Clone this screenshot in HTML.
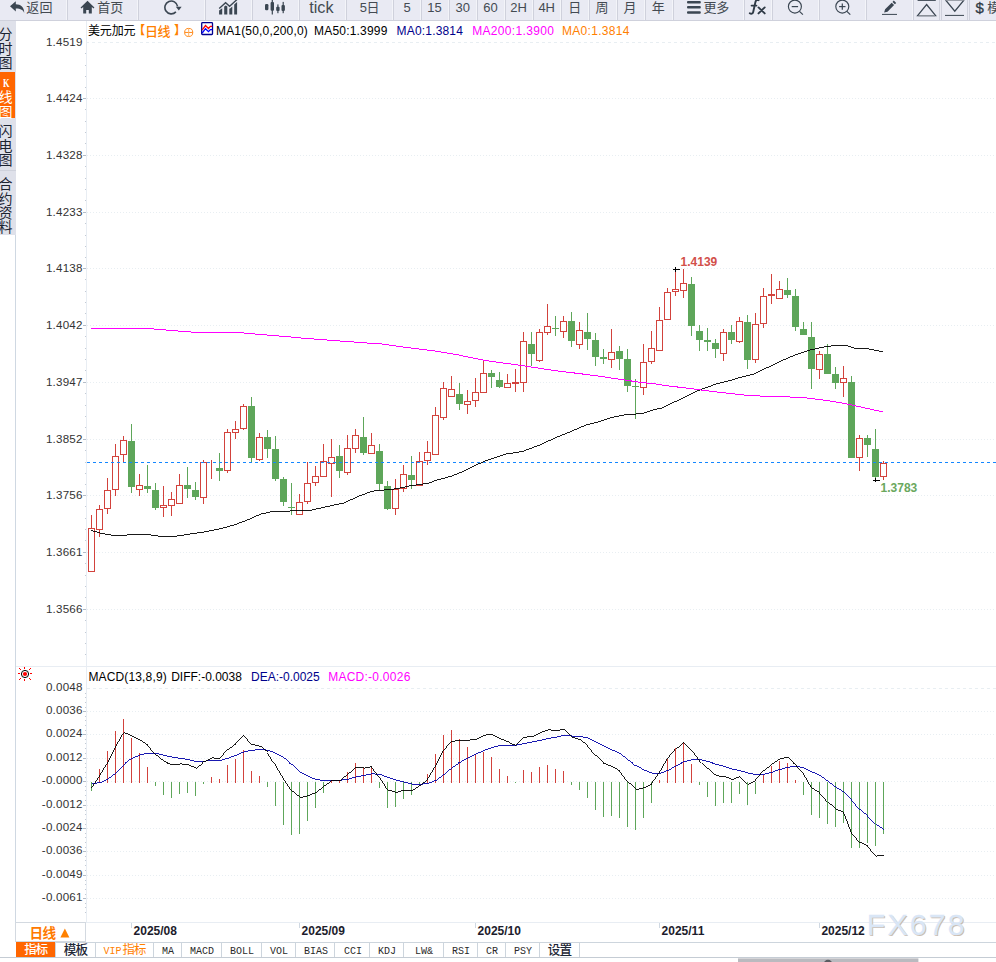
<!DOCTYPE html>
<html lang="zh"><head><meta charset="utf-8"><title>USDCAD K</title><style>
html,body{margin:0;padding:0}
body{width:996px;height:962px;position:relative;overflow:hidden;background:#fff;font-family:"Liberation Sans",sans-serif}
.ov{position:absolute;left:0;top:0;overflow:hidden}
.t{position:absolute;white-space:nowrap;line-height:16px;display:block}
.zh{position:absolute;display:block;line-height:1;white-space:nowrap;font-family:"Liberation Sans","Noto Sans CJK SC",sans-serif}
.zv{writing-mode:vertical-rl;line-height:14px;letter-spacing:0.3px}
#tb{position:absolute;left:0;top:0;width:996px;height:20px;background:#e9eaf3;border-bottom:1px solid #cfd1dc;overflow:hidden}
.btn{position:absolute;top:0;height:20px;box-sizing:border-box;border-left:1px solid #cfd1dc;border-right:1px solid #f3f4f9}
#sb{position:absolute;left:0;top:21px;width:15.9px;height:213.5px;background:#dfe1ea}
#sbk{position:absolute;left:0;top:72px;width:15.2px;height:45.8px;background:#ff6600}
.sbsep{position:absolute;left:0;width:15.7px;height:1px;background:#cfd2dc}
.ax{letter-spacing:0px}
.wm{font-weight:normal}
#pbox{position:absolute;left:15px;top:922px;width:71px;height:20px;border:1px solid #d3d9e0;box-sizing:border-box}
#tabs{position:absolute;left:0;top:942px;width:996px;height:16px;background:linear-gradient(#cdd5dd,#cdd5dd) 16px 0/980px 1px no-repeat,linear-gradient(#c5ccd4,#c5ccd4) 0 15px/996px 1px no-repeat,#fff}
.tab{position:absolute;top:1px;height:14px;border-right:1px solid #cdd5dd;box-sizing:border-box}
.mono{font-family:"Liberation Mono",monospace;transform:scaleX(.855);transform-origin:50% 50%;line-height:13px}
</style></head>
<body>
<div id="tb">
<div class="btn" style="left:0px;width:67px;border-left:0;"></div>
<div class="btn" style="left:67px;width:71px;"></div>
<div class="btn" style="left:138px;width:67px;"></div>
<div class="btn" style="left:205px;width:47px;"></div>
<div class="btn" style="left:252px;width:47px;"></div>
<div class="btn" style="left:299px;width:47px;"></div>
<div class="btn" style="left:346px;width:47px;"></div>
<div class="btn" style="left:393px;width:28px;"></div>
<div class="btn" style="left:421px;width:28px;"></div>
<div class="btn" style="left:449px;width:28px;"></div>
<div class="btn" style="left:477px;width:28px;"></div>
<div class="btn" style="left:505px;width:28px;"></div>
<div class="btn" style="left:533px;width:28px;"></div>
<div class="btn" style="left:561px;width:28px;"></div>
<div class="btn" style="left:589px;width:28px;"></div>
<div class="btn" style="left:617px;width:28px;"></div>
<div class="btn" style="left:645px;width:28px;"></div>
<div class="btn" style="left:673px;width:71px;"></div>
<div class="btn" style="left:744px;width:28px;"></div>
<div class="btn" style="left:772px;width:47px;"></div>
<div class="btn" style="left:819px;width:47px;"></div>
<div class="btn" style="left:866px;width:47px;"></div>
<div class="btn" style="left:913px;width:27px;border-right-color:#cfd1dc;"></div>
<div class="btn" style="left:941px;width:27px;border-right-color:#cfd1dc;"></div>
<div class="btn" style="left:969px;width:28px;"></div>
<svg class="ov" width="996" height="21"><path fill="#3b4652" d="M10 6.3 L15.8 1.2 V4.2 C20.8 4.3 24.4 7 24.2 13.1 C23.3 10.3 20.8 8.6 15.8 8.6 V11.5 Z"/><path fill="#3b4652" d="M87.5 0.8 L94.4 7.6 L93.6 8.4 L91.8 6.9 V13.6 H88.8 V10 H86.2 V13.6 H83.2 V6.9 L81.4 8.4 L80.6 7.6 Z"/><path fill="none" stroke="#3b4652" stroke-width="1.6" d="M175.9 11.9 A6.4 6.4 0 1 1 177.6 6.4"/><path fill="#3b4652" d="M175.8 6.7 L181.6 6.7 L178.8 10.6 Z"/><g fill="#3b4652"><path d="M219.1 14.5 V10.6 L222.2 8.2 V14.5 Z M224.2 14.5 V6.6 L225.8 5.4 L227.3 6.6 V14.5 Z M229.3 14.5 V8.3 L229.8 8.7 L232.3 6.4 V14.5 Z M234.2 14.5 V4.6 L237.1 1.9 V14.5 Z"/></g><path fill="none" stroke="#3b4652" stroke-width="1.4" d="M219.2 8.5 L225.6 2.8 L229.6 6.2 L237 -0.4"/><g fill="#3b4652"><rect x="265" y="4" width="3.4" height="6.3" rx="1.2"/><rect x="270.6" y="2" width="3.4" height="8.7" rx="1"/><rect x="271.7" y="0" width="1.2" height="14.5"/><rect x="276.2" y="6.8" width="3.4" height="4.2" rx="1"/><rect x="277.3" y="4.4" width="1.2" height="8.8"/><rect x="281.5" y="5" width="3.4" height="6" rx="1"/><rect x="282.6" y="1.9" width="1.2" height="11.3"/></g><g fill="#3b4652"><rect x="687" y="1" width="13.8" height="2.5" rx="1"/><rect x="687" y="6" width="13.8" height="2.5" rx="1"/><rect x="687" y="11.2" width="13.8" height="2.5" rx="1"/></g><circle cx="794.9" cy="6.6" r="6.5" fill="none" stroke="#3b4652" stroke-width="1.15"/><path stroke="#3b4652" stroke-width="1.2" fill="none" d="M799.5 11.3 L802.9 14.7"/><path stroke="#3b4652" stroke-width="1.2" fill="none" d="M791.7 6.6 H798.1"/><circle cx="842.3" cy="6.6" r="6.5" fill="none" stroke="#3b4652" stroke-width="1.15"/><path stroke="#3b4652" stroke-width="1.2" fill="none" d="M846.9 11.3 L850.3 14.7"/><path stroke="#3b4652" stroke-width="1.2" fill="none" d="M839.1 6.6 H845.5"/><path stroke="#3b4652" stroke-width="1.2" fill="none" d="M842.3 3.4 V9.8"/><path fill="#3b4652" d="M884.1 12.5 L885.1 9.3 L891.7 2.7 L894.1 5.1 L887.5 11.7 Z M892.5 1.9 L893.8 0.6 L896.2 3 L894.9 4.3 Z"/><rect x="882" y="13.9" width="15" height="1" fill="#3b4652"/><rect x="917.6" y="0" width="18.2" height="0.9" fill="#3b4652"/><path fill="none" stroke="#3b4652" stroke-width="1.25" d="M926.6 4.5 L935.6 15.6 H917.6 Z"/><rect x="918.4" y="15" width="16.6" height="1.3" fill="#8a8f98"/><path fill="none" stroke="#3b4652" stroke-width="1.25" d="M945.6 0 L954.8 11.2 L964 0"/><rect x="945.4" y="0" width="18.8" height="0.8" fill="#8a8f98"/><rect x="945" y="14.9" width="19" height="1" fill="#3b4652"/></svg>
<span class="zh" style="left:26.20px;top:0.60px;font-size:13px;color:#444a52;letter-spacing:0.3px;">返回</span>
<span class="zh" style="left:97.20px;top:0.60px;font-size:13px;color:#444a52;letter-spacing:0.1px;">首页</span>
<span class="t" style="left:309.20px;top:-0.80px;font-size:16.2px;color:#444a52;">tick</span>
<span class="t" style="left:359.80px;top:0.00px;font-size:13px;color:#444a52;">5</span>
<span class="zh" style="left:366.40px;top:0.80px;font-size:13px;color:#444a52;">日</span>
<span class="t" style="left:387.00px;top:0.00px;font-size:13px;color:#444a52;width:40px;text-align:center;">5</span>
<span class="t" style="left:414.50px;top:0.00px;font-size:13px;color:#444a52;width:40px;text-align:center;">15</span>
<span class="t" style="left:442.70px;top:0.00px;font-size:13px;color:#444a52;width:40px;text-align:center;">30</span>
<span class="t" style="left:470.50px;top:0.00px;font-size:13px;color:#444a52;width:40px;text-align:center;">60</span>
<span class="t" style="left:498.60px;top:0.00px;font-size:13px;color:#444a52;width:40px;text-align:center;">2H</span>
<span class="t" style="left:526.70px;top:0.00px;font-size:13px;color:#444a52;width:40px;text-align:center;">4H</span>
<span class="zh" style="left:568.20px;top:0.80px;font-size:13px;color:#444a52;">日</span>
<span class="zh" style="left:595.60px;top:0.80px;font-size:13px;color:#444a52;">周</span>
<span class="zh" style="left:623.50px;top:0.80px;font-size:13px;color:#444a52;">月</span>
<span class="zh" style="left:651.80px;top:0.80px;font-size:13px;color:#444a52;">年</span>
<span class="zh" style="left:703.60px;top:0.60px;font-size:13px;color:#444a52;letter-spacing:-0.4px;">更多</span>
<svg class="ov" width="996" height="21"><title>fx</title><path fill="none" stroke="#2f3a46" stroke-width="1.9" stroke-linecap="round" d="M758.6 0.2 C757 -0.5 755.9 0.2 755.5 1.8 L753.2 12 C752.8 13.8 751.2 14.2 749.8 13.3 M751.6 5.6 H756.4 M758.5 7.4 L764.7 13.4 M764.7 7.4 L758.5 13.4"/></svg>
<span class="t" style="left:975.40px;top:0.20px;font-size:15px;color:#2f3a46;-webkit-text-stroke:0.3px #2f3a46;">$</span>
<span class="zh" style="left:987.20px;top:0.60px;font-size:13px;color:#444a52;">模</span>
</div>
<div id="sb"></div>
<div id="sbk"></div>
<div class="sbsep" style="top:170px"></div>
<span class="zh zv" style="left:-2.40px;top:26.90px;width:14.00px;height:42.60px;font-size:14px;color:#1c2432;">分时图</span>
<span class="zh zv" style="left:-2.40px;top:90.10px;width:14.00px;height:28.30px;font-size:14px;color:#fff;">线图</span>
<span class="t" style="left:2.80px;top:75.20px;font-size:12px;color:#fff;font-family:'Liberation Serif',serif;transform:scaleX(.7);transform-origin:0 50%;font-weight:bold;">K</span>
<span class="zh zv" style="left:-2.50px;top:124.10px;width:14.00px;height:42.60px;font-size:14px;color:#1c2432;">闪电图</span>
<span class="zh zv" style="left:-2.50px;top:176.70px;width:14.00px;height:56.90px;font-size:14px;color:#1c2432;">合约资料</span>
<svg id="ch" class="ov" width="996" height="962"><path d="M86 42.5 H996" stroke="#e8eef2" stroke-width="1" stroke-dasharray="3 3"/><path d="M87 98.5 H996" stroke="#e8eef2" stroke-width="1" stroke-dasharray="1 2"/><path d="M87 155.5 H996" stroke="#e8eef2" stroke-width="1" stroke-dasharray="1 2"/><path d="M87 212.5 H996" stroke="#e8eef2" stroke-width="1" stroke-dasharray="1 2"/><path d="M87 268.5 H996" stroke="#e8eef2" stroke-width="1" stroke-dasharray="1 2"/><path d="M87 325.5 H996" stroke="#e8eef2" stroke-width="1" stroke-dasharray="1 2"/><path d="M87 382.5 H996" stroke="#e8eef2" stroke-width="1" stroke-dasharray="1 2"/><path d="M87 439.5 H996" stroke="#e8eef2" stroke-width="1" stroke-dasharray="1 2"/><path d="M87 495.5 H996" stroke="#e8eef2" stroke-width="1" stroke-dasharray="1 2"/><path d="M87 552.5 H996" stroke="#e8eef2" stroke-width="1" stroke-dasharray="1 2"/><path d="M87 609.5 H996" stroke="#e8eef2" stroke-width="1" stroke-dasharray="1 2"/><path d="M85 53.5 H86 M85 65.5 H86 M85 76.5 H86 M85 87.5 H86 M85 109.5 H86 M85 121.5 H86 M85 132.5 H86 M85 143.5 H86 M85 166.5 H86 M85 178.5 H86 M85 189.5 H86 M85 200.5 H86 M85 223.5 H86 M85 235.5 H86 M85 246.5 H86 M85 257.5 H86 M85 279.5 H86 M85 291.5 H86 M85 302.5 H86 M85 313.5 H86 M85 336.5 H86 M85 348.5 H86 M85 359.5 H86 M85 370.5 H86 M85 393.5 H86 M85 405.5 H86 M85 416.5 H86 M85 427.5 H86 M85 450.5 H86 M85 462.5 H86 M85 473.5 H86 M85 484.5 H86 M85 506.5 H86 M85 518.5 H86 M85 529.5 H86 M85 540.5 H86 M85 563.5 H86 M85 575.5 H86 M85 586.5 H86 M85 597.5 H86 M85 620.5 H86 M85 632.5 H86 M85 643.5 H86 M85 654.5 H86" stroke="#c3cad4" stroke-width="1"/><path d="M83 98.5 H86 M83 155.5 H86 M83 212.5 H86 M83 268.5 H86 M83 325.5 H86 M83 382.5 H86 M83 439.5 H86 M83 495.5 H86 M83 552.5 H86 M83 609.5 H86" stroke="#b4bcc7" stroke-width="1"/><path d="M86.5 21 V922 M16 666.5 H996 M16 922.5 H996" stroke="#e8edf3" stroke-width="1" fill="none"/><path d="M15.5 235 V957" stroke="#cfd8e2" stroke-width="1" fill="none"/><path d="M87 688.5 H996" stroke="#e8eef2" stroke-width="1" stroke-dasharray="3 3"/><path d="M87 711.5 H996" stroke="#e8eef2" stroke-width="1" stroke-dasharray="1 2"/><path d="M87 734.5 H996" stroke="#e8eef2" stroke-width="1" stroke-dasharray="1 2"/><path d="M87 758.5 H996" stroke="#e8eef2" stroke-width="1" stroke-dasharray="1 2"/><path d="M87 781.5 H996" stroke="#e8eef2" stroke-width="1" stroke-dasharray="1 2"/><path d="M87 805.5 H996" stroke="#e8eef2" stroke-width="1" stroke-dasharray="1 2"/><path d="M87 828.5 H996" stroke="#e8eef2" stroke-width="1" stroke-dasharray="1 2"/><path d="M87 851.5 H996" stroke="#e8eef2" stroke-width="1" stroke-dasharray="1 2"/><path d="M87 875.5 H996" stroke="#e8eef2" stroke-width="1" stroke-dasharray="1 2"/><path d="M87 898.5 H996" stroke="#e8eef2" stroke-width="1" stroke-dasharray="1 2"/><path d="M85 693.5 H86 M85 697.5 H86 M85 702.5 H86 M85 707.5 H86 M85 716.5 H86 M85 720.5 H86 M85 725.5 H86 M85 730.5 H86 M85 739.5 H86 M85 743.5 H86 M85 748.5 H86 M85 753.5 H86 M85 763.5 H86 M85 767.5 H86 M85 772.5 H86 M85 777.5 H86 M85 786.5 H86 M85 790.5 H86 M85 795.5 H86 M85 800.5 H86 M85 810.5 H86 M85 814.5 H86 M85 819.5 H86 M85 824.5 H86 M85 833.5 H86 M85 837.5 H86 M85 842.5 H86 M85 847.5 H86 M85 856.5 H86 M85 860.5 H86 M85 865.5 H86 M85 870.5 H86 M85 880.5 H86 M85 884.5 H86 M85 889.5 H86 M85 894.5 H86 M85 903.5 H86 M85 907.5 H86 M85 912.5 H86" stroke="#c3cad4" stroke-width="1"/><path d="M83 711.5 H86 M83 734.5 H86 M83 758.5 H86 M83 781.5 H86 M83 805.5 H86 M83 828.5 H86 M83 851.5 H86 M83 875.5 H86 M83 898.5 H86" stroke="#b4bcc7" stroke-width="1"/><path d="M131 424h1v69h-1zM128 441h7v46h-7zM147 465h1v28h-1zM144 486h7v3h-7zM155 483h1v27h-1zM152 490h7v18h-7zM187 467h1v31h-1zM184 485h7v4h-7zM195 482h1v18h-1zM192 490h7v7h-7zM219 453h1v28h-1zM216 468h7v3h-7zM251 397h1v65h-1zM248 406h7v52h-7zM267 430h1v28h-1zM264 437h7v12h-7zM275 436h1v45h-1zM272 449h7v30h-7zM283 477h1v29h-1zM280 479h7v23h-7zM291 483h1v32h-1zM288 507h7v1h-7zM339 445h1v33h-1zM336 456h7v15h-7zM363 417h1v38h-1zM360 437h7v16h-7zM379 444h1v46h-1zM376 451h7v33h-7zM387 481h1v29h-1zM384 486h7v23h-7zM411 456h1v33h-1zM408 475h7v5h-7zM459 383h1v27h-1zM456 394h7v10h-7zM491 370h1v18h-1zM488 373h7v4h-7zM499 372h1v16h-1zM496 380h7v7h-7zM531 332h1v34h-1zM528 344h7v10h-7zM555 316h1v20h-1zM552 328h7v1h-7zM571 312h1v35h-1zM568 321h7v20h-7zM587 313h1v37h-1zM584 332h7v7h-7zM595 333h1v33h-1zM592 340h7v17h-7zM603 349h1v15h-1zM600 357h7v2h-7zM619 346h1v24h-1zM616 351h7v8h-7zM627 349h1v43h-1zM624 359h7v27h-7zM635 379h1v40h-1zM632 386h7v1h-7zM691 277h1v59h-1zM688 284h7v42h-7zM699 325h1v26h-1zM696 331h7v9h-7zM707 328h1v23h-1zM704 340h7v2h-7zM715 339h1v19h-1zM712 343h7v6h-7zM731 325h1v19h-1zM728 332h7v8h-7zM747 315h1v54h-1zM744 322h7v38h-7zM787 278h1v20h-1zM784 290h7v5h-7zM795 289h1v42h-1zM792 296h7v31h-7zM803 322h1v13h-1zM800 329h7v6h-7zM811 322h1v67h-1zM808 337h7v32h-7zM827 344h1v30h-1zM824 354h7v20h-7zM835 367h1v22h-1zM832 374h7v9h-7zM851 376h1v82h-1zM848 382h7v76h-7zM867 435h1v22h-1zM864 438h7v7h-7zM875 429h1v52h-1zM872 449h7v28h-7z" fill="#5ea65a"/><path d="M91 515h1v13h-1zM88 528h7v44h-7zM99 505h1v4h-1zM99 530h1v7h-1zM96 509h7v21h-7zM107 478h1v12h-1zM107 509h1v5h-1zM104 490h7v19h-7zM115 444h1v12h-1zM115 490h1v6h-1zM112 456h7v34h-7zM123 436h1v4h-1zM123 455h1v7h-1zM120 440h7v15h-7zM139 474h1v11h-1zM139 490h1v6h-1zM136 485h7v5h-7zM163 486h1v19h-1zM163 508h1v9h-1zM160 505h7v3h-7zM171 492h1v7h-1zM171 506h1v10h-1zM168 499h7v7h-7zM179 474h1v11h-1zM176 485h7v19h-7zM203 460h1v2h-1zM203 498h1v6h-1zM200 462h7v36h-7zM211 460h1v19h-1zM227 429h1v3h-1zM227 471h1v2h-1zM224 432h7v39h-7zM235 421h1v8h-1zM235 433h1v6h-1zM232 429h7v4h-7zM243 404h1v2h-1zM243 429h1v1h-1zM240 406h7v23h-7zM259 433h1v4h-1zM259 460h1v1h-1zM256 437h7v23h-7zM299 494h1v8h-1zM296 502h7v13h-7zM307 462h1v21h-1zM307 502h1v2h-1zM304 483h7v19h-7zM315 466h1v10h-1zM315 483h1v3h-1zM312 476h7v7h-7zM323 444h1v17h-1zM320 461h7v16h-7zM331 439h1v18h-1zM331 464h1v33h-1zM328 457h7v7h-7zM347 435h1v13h-1zM347 473h1v2h-1zM344 448h7v25h-7zM355 429h1v6h-1zM355 449h1v4h-1zM352 435h7v14h-7zM371 433h1v12h-1zM368 445h7v9h-7zM395 479h1v10h-1zM395 509h1v6h-1zM392 489h7v20h-7zM403 465h1v9h-1zM403 489h1v3h-1zM400 474h7v15h-7zM419 452h1v9h-1zM416 461h7v25h-7zM427 441h1v11h-1zM427 461h1v4h-1zM424 452h7v9h-7zM435 407h1v8h-1zM432 415h7v40h-7zM443 382h1v6h-1zM443 418h1v2h-1zM440 388h7v30h-7zM451 376h1v13h-1zM448 389h7v8h-7zM467 390h1v11h-1zM467 405h1v9h-1zM464 401h7v4h-7zM475 378h1v14h-1zM475 401h1v6h-1zM472 392h7v9h-7zM483 360h1v13h-1zM480 373h7v20h-7zM507 374h1v9h-1zM504 383h7v5h-7zM515 369h1v13h-1zM515 384h1v8h-1zM512 382h7v2h-7zM523 332h1v9h-1zM523 383h1v9h-1zM520 341h7v42h-7zM539 329h1v3h-1zM539 361h1v1h-1zM536 332h7v29h-7zM547 304h1v22h-1zM547 333h1v2h-1zM544 326h7v7h-7zM563 316h1v5h-1zM563 332h1v6h-1zM560 321h7v11h-7zM579 322h1v8h-1zM579 345h1v4h-1zM576 330h7v15h-7zM611 329h1v23h-1zM611 360h1v8h-1zM608 352h7v8h-7zM643 344h1v18h-1zM643 388h1v7h-1zM640 362h7v26h-7zM651 331h1v17h-1zM651 362h1v2h-1zM648 348h7v14h-7zM659 307h1v13h-1zM656 320h7v31h-7zM667 288h1v4h-1zM664 292h7v28h-7zM675 269h1v20h-1zM675 292h1v4h-1zM672 289h7v3h-7zM683 269h1v14h-1zM683 291h1v7h-1zM680 283h7v8h-7zM723 329h1v3h-1zM723 354h1v7h-1zM720 332h7v22h-7zM739 317h1v4h-1zM739 342h1v1h-1zM736 321h7v21h-7zM755 313h1v11h-1zM755 360h1v3h-1zM752 324h7v36h-7zM763 288h1v8h-1zM763 324h1v4h-1zM760 296h7v28h-7zM771 274h1v20h-1zM771 296h1v8h-1zM768 294h7v2h-7zM779 281h1v8h-1zM776 289h7v10h-7zM819 351h1v3h-1zM819 370h1v9h-1zM816 354h7v16h-7zM843 366h1v12h-1zM843 383h1v14h-1zM840 378h7v5h-7zM859 435h1v3h-1zM859 458h1v13h-1zM856 438h7v20h-7zM883 461h1v2h-1zM883 477h1v3h-1zM880 463h7v14h-7z" fill="#d2423c"/><path d="M89 529h5v42h-5zM97 510h5v19h-5zM105 491h5v17h-5zM113 457h5v32h-5zM121 441h5v13h-5zM137 486h5v3h-5zM161 506h5v1h-5zM169 500h5v5h-5zM177 486h5v17h-5zM201 463h5v34h-5zM225 433h5v37h-5zM233 430h5v2h-5zM241 407h5v21h-5zM257 438h5v21h-5zM297 503h5v11h-5zM305 484h5v17h-5zM313 477h5v5h-5zM321 462h5v14h-5zM329 458h5v5h-5zM345 449h5v23h-5zM353 436h5v12h-5zM369 446h5v7h-5zM393 490h5v18h-5zM401 475h5v13h-5zM417 462h5v23h-5zM425 453h5v7h-5zM433 416h5v38h-5zM441 389h5v28h-5zM449 390h5v6h-5zM465 402h5v2h-5zM473 393h5v7h-5zM481 374h5v18h-5zM505 384h5v3h-5zM521 342h5v40h-5zM537 333h5v27h-5zM545 327h5v5h-5zM561 322h5v9h-5zM577 331h5v13h-5zM609 353h5v6h-5zM641 363h5v24h-5zM649 349h5v12h-5zM657 321h5v29h-5zM665 293h5v26h-5zM673 290h5v1h-5zM681 284h5v6h-5zM721 333h5v20h-5zM737 322h5v19h-5zM753 325h5v34h-5zM761 297h5v26h-5zM777 290h5v8h-5zM817 355h5v14h-5zM841 379h5v3h-5zM857 439h5v18h-5zM881 464h5v12h-5z" fill="#fff"/><polyline points="91.2,530.4 100.0,533.0 112.0,535.2 126.6,535.0 147.4,534.6 162.0,536.5 174.5,536.2 189.0,534.2 203.6,532.0 220.2,528.8 235.0,524.6 250.0,519.0 260.4,514.2 272.8,511.5 293.6,510.9 310.3,510.4 322.8,507.5 343.6,503.0 358.1,496.5 370.6,491.7 375.4,490.8 387.9,489.6 398.3,488.5 410.8,485.6 427.4,483.5 437.8,479.8 451.3,476.2 462.8,471.5 473.2,466.3 483.6,461.7 494.0,457.9 506.5,453.8 515.0,452.7 523.7,451.0 540.4,444.7 557.0,437.0 571.6,431.2 586.1,425.0 598.6,421.9 613.2,417.1 623.6,415.0 642.3,413.5 655.0,409.4 661.6,408.1 676.2,401.2 690.8,393.9 701.2,389.4 715.7,384.2 728.2,381.0 740.7,377.3 753.2,374.2 765.7,368.4 780.2,361.3 795.0,355.0 810.0,350.1 826.6,346.3 841.2,345.3 845.3,345.3 855.7,348.4 868.2,348.8 876.5,350.5 882.8,352.2" fill="none" stroke="#000" stroke-width="0.9" shape-rendering="crispEdges"/><polyline points="91.1,328.0 143.0,328.0 159.8,329.5 193.0,332.2 238.0,332.4 254.7,334.0 272.8,335.5 287.8,336.7 304.4,338.3 321.0,339.5 336.0,340.7 352.6,341.9 369.2,343.2 381.6,343.9 406.6,347.5 433.6,350.8 458.6,355.0 483.6,360.2 500.2,362.7 515.0,364.5 536.2,367.8 557.0,370.9 577.8,373.4 598.6,376.1 619.4,379.2 640.2,382.3 655.0,383.8 665.8,385.6 686.6,388.1 707.4,390.8 728.2,393.3 749.0,395.6 769.8,396.4 785.0,396.7 805.8,397.9 826.6,400.4 847.4,404.0 868.2,408.7 882.8,411.9" fill="none" stroke="#ff00ff" stroke-width="1" shape-rendering="crispEdges"/><path d="M87 462.5 H996" stroke="#1487ff" stroke-width="1.1" stroke-dasharray="3 3"/><path d="M673 269h7v1h-7z M675 267h1v5h-1z M873 480h7v1h-7z M875 478h1v4h-1z" fill="#000"/><path d="M99 769h1v14h-1zM107 751h1v32h-1zM115 731h1v52h-1zM123 719h1v64h-1zM131 738h1v45h-1zM139 753h1v30h-1zM147 767h1v16h-1zM211 777h1v6h-1zM219 779h1v4h-1zM227 765h1v18h-1zM235 759h1v24h-1zM243 750h1v33h-1zM251 771h1v12h-1zM259 776h1v7h-1zM331 781h1v2h-1zM339 781h1v2h-1zM347 772h1v11h-1zM355 763h1v20h-1zM363 768h1v15h-1zM371 768h1v15h-1zM427 774h1v9h-1zM435 754h1v29h-1zM443 735h1v48h-1zM451 730h1v53h-1zM459 739h1v44h-1zM467 747h1v36h-1zM475 754h1v29h-1zM483 752h1v31h-1zM491 757h1v26h-1zM499 769h1v14h-1zM507 776h1v7h-1zM523 770h1v13h-1zM531 772h1v11h-1zM539 767h1v16h-1zM547 765h1v18h-1zM555 769h1v14h-1zM563 771h1v12h-1zM659 780h1v3h-1zM667 759h1v24h-1zM675 748h1v35h-1zM683 743h1v40h-1zM691 764h1v19h-1zM763 775h1v8h-1zM771 766h1v17h-1zM779 761h1v22h-1zM787 763h1v20h-1zM795 780h1v3h-1z" fill="#d2423c"/><path d="M91 782h1v9h-1zM155 782h1v4h-1zM163 782h1v13h-1zM171 782h1v16h-1zM179 782h1v12h-1zM187 782h1v11h-1zM195 782h1v14h-1zM203 782h1v2h-1zM267 782h1v5h-1zM275 782h1v24h-1zM283 782h1v43h-1zM291 782h1v53h-1zM299 782h1v52h-1zM307 782h1v39h-1zM315 782h1v26h-1zM323 782h1v11h-1zM379 782h1v6h-1zM387 782h1v26h-1zM395 782h1v25h-1zM403 782h1v17h-1zM411 782h1v13h-1zM419 782h1v2h-1zM515 782h1v1h-1zM571 782h1v3h-1zM579 782h1v8h-1zM587 782h1v16h-1zM595 782h1v28h-1zM603 782h1v35h-1zM611 782h1v34h-1zM619 782h1v36h-1zM627 782h1v45h-1zM635 782h1v48h-1zM643 782h1v36h-1zM651 782h1v21h-1zM699 782h1v3h-1zM707 782h1v15h-1zM715 782h1v24h-1zM723 782h1v21h-1zM731 782h1v21h-1zM739 782h1v12h-1zM747 782h1v23h-1zM755 782h1v12h-1zM803 782h1v13h-1zM811 782h1v33h-1zM819 782h1v36h-1zM827 782h1v42h-1zM835 782h1v45h-1zM843 782h1v41h-1zM851 782h1v66h-1zM859 782h1v66h-1zM867 782h1v61h-1zM875 782h1v64h-1zM883 782h1v52h-1z" fill="#5ea65a"/><polyline points="91.5,783.8 99.5,782.5 107.5,778.5 115.5,772.5 123.5,764.5 131.5,758.3 139.5,754.8 147.5,753.2 155.5,753.5 163.5,755.4 171.5,757.2 179.5,758.3 187.5,759.6 195.5,761.6 203.5,761.2 211.5,760.4 219.5,760.4 227.5,758.0 235.5,755.2 243.5,751.6 251.5,750.3 259.5,749.5 267.5,750.3 275.5,753.5 283.5,758.0 291.5,764.8 299.5,772.0 307.5,776.5 315.5,779.6 323.5,780.6 331.5,780.6 339.5,780.3 347.5,779.0 355.5,776.9 363.5,775.3 371.5,773.8 379.5,774.5 387.5,777.5 395.5,780.2 403.5,782.2 411.5,784.1 419.5,784.4 427.5,783.3 435.5,780.1 443.5,774.1 451.5,767.5 459.5,762.0 467.5,757.9 475.5,753.8 483.5,750.3 491.5,747.4 499.5,745.4 507.5,745.1 515.5,745.1 523.5,743.4 531.5,741.9 539.5,740.3 547.5,738.5 555.5,737.1 563.5,735.3 571.5,736.1 579.5,736.3 587.5,738.2 595.5,742.2 603.5,746.3 611.5,750.0 619.5,753.8 627.5,760.0 635.5,765.9 643.5,770.1 651.5,773.3 659.5,773.3 667.5,770.1 675.5,765.9 683.5,761.9 691.5,759.5 699.5,759.5 707.5,761.6 715.5,764.3 723.5,766.4 731.5,769.3 739.5,770.7 747.5,773.3 755.5,774.5 763.5,774.0 771.5,772.0 779.5,769.3 787.5,767.2 795.5,766.1 803.5,768.0 811.5,772.0 819.5,775.6 827.5,781.7 835.5,787.5 843.5,792.4 851.5,800.2 859.5,809.9 867.5,816.3 875.5,824.4 883.5,830.0" fill="none" stroke="#0000a8" stroke-width="0.9" shape-rendering="crispEdges"/><polyline points="91.5,787.8 99.5,775.8 107.5,762.8 115.5,746.7 123.5,732.7 131.5,736.1 139.5,740.0 147.5,745.4 155.5,755.1 163.5,761.5 171.5,764.8 179.5,763.9 187.5,764.7 195.5,768.2 203.5,761.9 211.5,757.8 219.5,758.8 227.5,749.3 235.5,743.5 243.5,735.4 251.5,744.5 259.5,746.1 267.5,752.5 275.5,765.2 283.5,779.1 291.5,791.0 299.5,797.6 307.5,795.7 315.5,792.2 323.5,785.9 331.5,780.2 339.5,780.0 347.5,773.8 355.5,767.1 363.5,768.0 371.5,766.5 379.5,777.1 387.5,790.1 395.5,792.3 403.5,790.2 411.5,790.5 419.5,785.3 427.5,779.0 435.5,765.8 443.5,750.4 451.5,741.3 459.5,740.2 467.5,740.2 475.5,739.3 483.5,735.1 491.5,734.7 499.5,738.7 507.5,741.9 515.5,745.4 523.5,737.2 531.5,736.6 539.5,732.5 547.5,729.8 555.5,730.4 563.5,729.5 571.5,737.2 579.5,739.9 587.5,745.9 595.5,755.9 603.5,763.4 611.5,766.7 619.5,771.3 627.5,782.1 635.5,789.6 643.5,787.7 651.5,783.5 659.5,772.1 667.5,758.4 675.5,748.8 683.5,742.1 691.5,750.2 699.5,760.5 707.5,768.7 715.5,775.8 723.5,776.5 731.5,779.4 739.5,776.4 747.5,784.4 755.5,780.1 763.5,770.4 771.5,763.8 779.5,758.6 787.5,757.4 795.5,764.9 803.5,774.0 811.5,788.1 819.5,793.2 827.5,802.2 835.5,809.5 843.5,812.4 851.5,833.1 859.5,842.5 867.5,846.3 875.5,856.0 883.5,855.6" fill="none" stroke="#000" stroke-width="0.9" shape-rendering="crispEdges"/><circle cx="25" cy="674" r="3.6" fill="#fff" stroke="#000" stroke-width="1"/><circle cx="25" cy="674" r="2.1" fill="#f00"/><path fill="#f00" d="M18 673h2v1h-2z M30 673h2v1h-2z M24 667h1v2h-1z M24 679h1v2h-1z M19 668h1v1h-1z M20 669h1v1h-1z M30 668h1v1h-1z M29 669h1v1h-1z M19 679h1v1h-1z M20 678h1v1h-1z M30 679h1v1h-1z M29 678h1v1h-1z"/><rect x="201.7" y="22.6" width="10.8" height="11.9" rx="0.8" fill="#fff" stroke="#00008f" stroke-width="1.3"/><path d="M202.2 29.8 L205.5 25.5 L208.5 28.5 L210.4 26.4 H212.2" stroke="#f00" stroke-width="1.25" fill="none"/><path d="M202.2 33 L205.5 28.7 L208.5 31.7 L210.4 29.5 H212.2" stroke="#00f" stroke-width="1.25" fill="none"/><circle cx="188.7" cy="32.45" r="4.05" fill="none" stroke="#ff8a1a" stroke-width="1"/><path d="M184.6 32.45 H192.8" stroke="#ff8a1a" stroke-width="1"/><path d="M188.7 28.4 V36.5" stroke="#ffb060" stroke-width="1"/><path d="M131.5 923 V928 M299.5 923 V928 M475.5 923 V928 M659.5 923 V928 M819.5 923 V928" stroke="#cfd8e2" stroke-width="1"/><path d="M64.9 928.4 L69.4 937.4 H60.4 Z" fill="#ff8000"/><rect x="738" y="958.4" width="180.4" height="4" fill="#b9babf"/><circle cx="828" cy="964.4" r="4.6" fill="#5a5c62"/></svg>
<span class="t ax" style="left:29.70px;top:33.60px;font-size:11.6px;color:#333;width:53px;text-align:right;letter-spacing:0.22px;">1.4519</span>
<span class="t ax" style="left:29.70px;top:89.60px;font-size:11.6px;color:#333;width:53px;text-align:right;letter-spacing:0.22px;">1.4424</span>
<span class="t ax" style="left:29.70px;top:146.60px;font-size:11.6px;color:#333;width:53px;text-align:right;letter-spacing:0.22px;">1.4328</span>
<span class="t ax" style="left:29.70px;top:203.60px;font-size:11.6px;color:#333;width:53px;text-align:right;letter-spacing:0.22px;">1.4233</span>
<span class="t ax" style="left:29.70px;top:259.60px;font-size:11.6px;color:#333;width:53px;text-align:right;letter-spacing:0.22px;">1.4138</span>
<span class="t ax" style="left:29.70px;top:316.60px;font-size:11.6px;color:#333;width:53px;text-align:right;letter-spacing:0.22px;">1.4042</span>
<span class="t ax" style="left:29.70px;top:373.60px;font-size:11.6px;color:#333;width:53px;text-align:right;letter-spacing:0.22px;">1.3947</span>
<span class="t ax" style="left:29.70px;top:430.60px;font-size:11.6px;color:#333;width:53px;text-align:right;letter-spacing:0.22px;">1.3852</span>
<span class="t ax" style="left:29.70px;top:486.60px;font-size:11.6px;color:#333;width:53px;text-align:right;letter-spacing:0.22px;">1.3756</span>
<span class="t ax" style="left:29.70px;top:543.60px;font-size:11.6px;color:#333;width:53px;text-align:right;letter-spacing:0.22px;">1.3661</span>
<span class="t ax" style="left:29.70px;top:600.60px;font-size:11.6px;color:#333;width:53px;text-align:right;letter-spacing:0.22px;">1.3566</span>
<span class="t ax" style="left:19.70px;top:679.40px;font-size:11.6px;color:#333;width:63px;text-align:right;letter-spacing:0.22px;">0.0048</span>
<span class="t ax" style="left:19.70px;top:702.40px;font-size:11.6px;color:#333;width:63px;text-align:right;letter-spacing:0.22px;">0.0036</span>
<span class="t ax" style="left:19.70px;top:725.40px;font-size:11.6px;color:#333;width:63px;text-align:right;letter-spacing:0.22px;">0.0024</span>
<span class="t ax" style="left:19.70px;top:749.40px;font-size:11.6px;color:#333;width:63px;text-align:right;letter-spacing:0.22px;">0.0012</span>
<span class="t ax" style="left:19.70px;top:772.40px;font-size:11.6px;color:#333;width:63px;text-align:right;letter-spacing:0.22px;">-0.0000</span>
<span class="t ax" style="left:19.70px;top:796.40px;font-size:11.6px;color:#333;width:63px;text-align:right;letter-spacing:0.22px;">-0.0012</span>
<span class="t ax" style="left:19.70px;top:819.40px;font-size:11.6px;color:#333;width:63px;text-align:right;letter-spacing:0.22px;">-0.0024</span>
<span class="t ax" style="left:19.70px;top:842.40px;font-size:11.6px;color:#333;width:63px;text-align:right;letter-spacing:0.22px;">-0.0036</span>
<span class="t ax" style="left:19.70px;top:866.40px;font-size:11.6px;color:#333;width:63px;text-align:right;letter-spacing:0.22px;">-0.0049</span>
<span class="t ax" style="left:19.70px;top:889.40px;font-size:11.6px;color:#333;width:63px;text-align:right;letter-spacing:0.22px;">-0.0061</span>
<span class="zh" style="left:88.00px;top:25.00px;font-size:12px;color:#000;letter-spacing:-0.15px;">美元加元</span>
<span class="zh" style="left:133.20px;top:25.00px;font-size:12px;color:#ff8000;font-weight:bold;">【</span>
<span class="zh" style="left:145.10px;top:24.50px;font-size:13px;color:#ff8000;font-weight:500;letter-spacing:-0.5px;">日线</span>
<span class="zh" style="left:173.90px;top:25.00px;font-size:12px;color:#ff8000;font-weight:bold;">】</span>
<span class="t" style="left:216.00px;top:23.40px;font-size:12px;color:#000;letter-spacing:0.17px;">MA1(50,0,200,0)</span>
<span class="t" style="left:314.00px;top:23.40px;font-size:12px;color:#000;letter-spacing:0.2px;">MA50:1.3999</span>
<span class="t" style="left:396.60px;top:23.40px;font-size:12px;color:#00008b;letter-spacing:0.17px;">MA0:1.3814</span>
<span class="t" style="left:472.20px;top:23.40px;font-size:12px;color:#ff00ff;letter-spacing:0.33px;">MA200:1.3900</span>
<span class="t" style="left:562.00px;top:23.40px;font-size:12px;color:#ff8000;letter-spacing:0.3px;">MA0:1.3814</span>
<span class="t" style="left:88.40px;top:669.40px;font-size:12px;color:#000;letter-spacing:0.15px;">MACD(13,8,9)</span>
<span class="t" style="left:171.20px;top:669.40px;font-size:12px;color:#000;">DIFF:-0.0038</span>
<span class="t" style="left:251.00px;top:669.40px;font-size:12px;color:#00008b;">DEA:-0.0025</span>
<span class="t" style="left:328.20px;top:669.40px;font-size:12px;color:#ff00ff;letter-spacing:0.25px;">MACD:-0.0026</span>
<span class="t" style="left:680.60px;top:254.10px;font-size:12px;color:#d2504a;font-weight:bold;">1.4139</span>
<span class="t" style="left:880.60px;top:480.40px;font-size:12px;color:#6aa85e;font-weight:bold;">1.3783</span>
<span class="t" style="left:133.60px;top:922.90px;font-size:12px;color:#1c1c2c;font-weight:bold;">2025/08</span>
<span class="t" style="left:301.60px;top:922.90px;font-size:12px;color:#1c1c2c;font-weight:bold;">2025/09</span>
<span class="t" style="left:477.60px;top:922.90px;font-size:12px;color:#1c1c2c;font-weight:bold;">2025/10</span>
<span class="t" style="left:661.60px;top:922.90px;font-size:12px;color:#1c1c2c;font-weight:bold;">2025/11</span>
<span class="t" style="left:821.40px;top:922.90px;font-size:12px;color:#1c1c2c;font-weight:bold;">2025/12</span>
<span class="t wm" style="left:866.80px;top:917.30px;font-size:30.2px;color:#d9e6f6;letter-spacing:2.2px;text-shadow:1px 1px 0 #cbbbad;-webkit-text-stroke:0.3px #d9e6f6;">FX678</span>
<div id="pbox"></div>
<span class="zh" style="left:29.60px;top:926.50px;font-size:13.6px;color:#ff7a00;font-weight:bold;letter-spacing:-0.8px;">日线</span>
<div id="tabs">
<div class="tab" style="left:16.0px;width:39.5px;background:#ff6600;top:0;height:15px;"></div>
<span class="zh" style="left:24.15px;top:1.70px;font-size:12.4px;color:#fff;font-weight:500;letter-spacing:-0.9px;">指标</span>
<div class="tab" style="left:55.5px;width:40.0px;"></div>
<span class="zh" style="left:63.70px;top:1.60px;font-size:12.6px;color:#1c2636;font-weight:500;letter-spacing:-0.9px;">模板</span>
<div class="tab" style="left:95.5px;width:58.0px;"></div>
<span class="t mono" style="left:102.20px;top:2.90px;font-size:11.7px;color:#ff8000;">VIP</span>
<span class="zh" style="left:122.40px;top:1.70px;font-size:12.4px;color:#ff8000;letter-spacing:-0.9px;">指标</span>
<div class="tab" style="left:153.5px;width:28.0px;"></div>
<span class="t mono" style="left:137.80px;top:2.90px;font-size:11.7px;color:#2a2a2a;width:60px;text-align:center;">MA</span>
<div class="tab" style="left:181.5px;width:40.0px;"></div>
<span class="t mono" style="left:171.80px;top:2.90px;font-size:11.7px;color:#2a2a2a;width:60px;text-align:center;">MACD</span>
<div class="tab" style="left:221.5px;width:40.5px;"></div>
<span class="t mono" style="left:212.05px;top:2.90px;font-size:11.7px;color:#2a2a2a;width:60px;text-align:center;">BOLL</span>
<div class="tab" style="left:262.0px;width:33.5px;"></div>
<span class="t mono" style="left:249.05px;top:2.90px;font-size:11.7px;color:#2a2a2a;width:60px;text-align:center;">VOL</span>
<div class="tab" style="left:295.5px;width:39.5px;"></div>
<span class="t mono" style="left:285.55px;top:2.90px;font-size:11.7px;color:#2a2a2a;width:60px;text-align:center;">BIAS</span>
<div class="tab" style="left:335.0px;width:35.0px;"></div>
<span class="t mono" style="left:322.80px;top:2.90px;font-size:11.7px;color:#2a2a2a;width:60px;text-align:center;">CCI</span>
<div class="tab" style="left:370.0px;width:34.0px;"></div>
<span class="t mono" style="left:357.30px;top:2.90px;font-size:11.7px;color:#2a2a2a;width:60px;text-align:center;">KDJ</span>
<div class="tab" style="left:404.0px;width:40.0px;"></div>
<span class="t mono" style="left:394.30px;top:2.90px;font-size:11.7px;color:#2a2a2a;width:60px;text-align:center;">LW&amp;</span>
<div class="tab" style="left:444.0px;width:33.5px;"></div>
<span class="t mono" style="left:431.05px;top:2.90px;font-size:11.7px;color:#2a2a2a;width:60px;text-align:center;">RSI</span>
<div class="tab" style="left:477.5px;width:28.0px;"></div>
<span class="t mono" style="left:461.80px;top:2.90px;font-size:11.7px;color:#2a2a2a;width:60px;text-align:center;">CR</span>
<div class="tab" style="left:505.5px;width:34.0px;"></div>
<span class="t mono" style="left:492.80px;top:2.90px;font-size:11.7px;color:#2a2a2a;width:60px;text-align:center;">PSY</span>
<div class="tab" style="left:539.5px;width:40.0px;"></div>
<span class="zh" style="left:547.70px;top:1.60px;font-size:12.6px;color:#1c2636;font-weight:500;letter-spacing:-0.9px;">设置</span>
</div>
</body></html>
